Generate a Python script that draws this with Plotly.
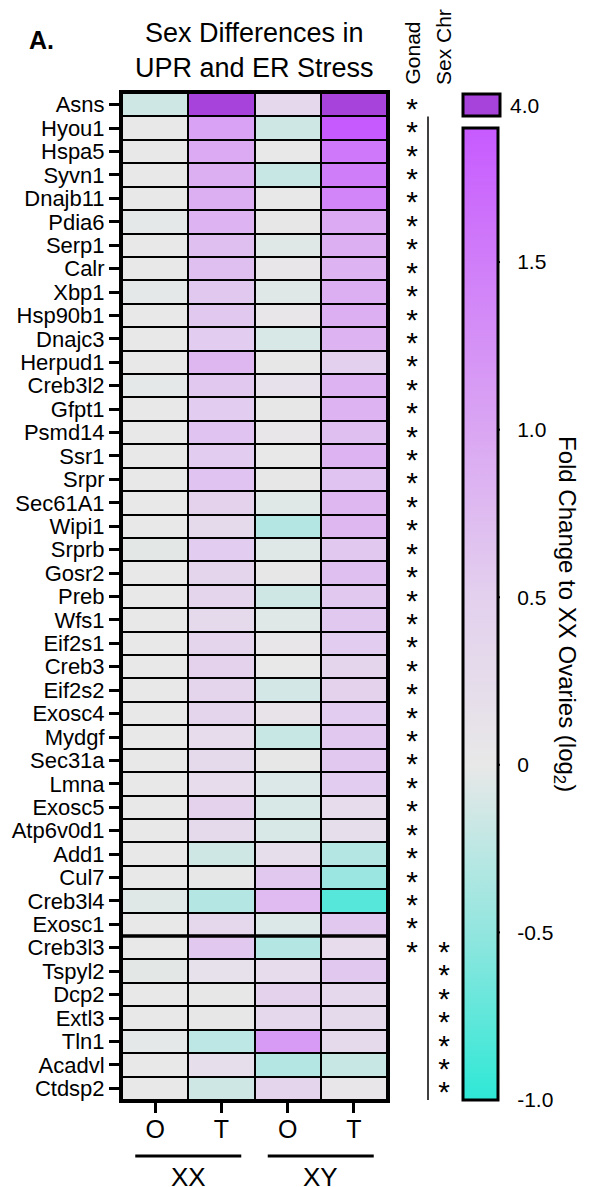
import plotly.graph_objects as go

# ---------------- data ----------------
genes = ["Asns", "Hyou1", "Hspa5", "Syvn1", "Dnajb11", "Pdia6", "Serp1", "Calr", "Xbp1",
         "Hsp90b1", "Dnajc3", "Herpud1", "Creb3l2", "Gfpt1", "Psmd14", "Ssr1", "Srpr",
         "Sec61A1", "Wipi1", "Srprb", "Gosr2", "Preb", "Wfs1", "Eif2s1", "Creb3", "Eif2s2",
         "Exosc4", "Mydgf", "Sec31a", "Lmna", "Exosc5", "Atp6v0d1", "Add1", "Cul7",
         "Creb3l4", "Exosc1", "Creb3l3", "Tspyl2", "Dcp2", "Extl3", "Tln1", "Acadvl", "Ctdsp2"]
columns = ["O", "T", "O", "T"]
groups = ["XX", "XY"]
sig_columns = ["Gonad", "Sex Chr"]

xx_o = [-0.15, 0.0, 0.0, 0.0, 0.0, -0.02, 0.0, 0.0, -0.02, 0.0, 0.0, 0.0, -0.02, 0.0, 0.0,
        0.0, 0.0, 0.0, 0.0, -0.03, 0.0, 0.0, 0.0, 0.0, 0.0, 0.0, 0.0, 0.0, 0.0, 0.0, 0.0,
        0.0, 0.0, 0.0, -0.05, 0.0, 0.0, -0.03, 0.0, 0.0, -0.02, 0.0, 0.0]
xx_t = [3.5, 1.05, 0.95, 0.9, 0.9, 0.85, 0.7, 0.7, 0.6, 0.6, 0.55, 0.8, 0.6, 0.55, 0.65,
        0.55, 0.65, 0.45, 0.3, 0.55, 0.4, 0.4, 0.3, 0.4, 0.45, 0.4, 0.4, 0.25, 0.3, 0.25,
        0.45, 0.3, -0.15, 0.02, -0.3, 0.35, 0.6, 0.15, 0.02, 0.02, -0.25, 0.2, -0.15]
xy_o = [0.35, -0.15, 0.0, -0.2, 0.0, 0.02, -0.05, 0.05, -0.05, 0.05, -0.1, 0.03, 0.15, 0.02,
        0.05, 0.0, 0.02, -0.05, -0.3, -0.05, 0.02, -0.15, -0.05, 0.05, 0.0, -0.12, 0.1, -0.2,
        0.02, -0.07, -0.1, -0.1, 0.2, 0.6, 0.75, -0.07, -0.3, 0.25, 0.45, 0.35, 1.15, -0.3, 0.4]
xy_t = [4.0, 1.9, 1.55, 1.5, 1.4, 0.95, 0.9, 0.85, 0.9, 0.9, 0.85, 0.5, 0.85, 0.85, 0.7,
        0.85, 0.65, 0.8, 0.8, 0.6, 0.7, 0.6, 0.6, 0.55, 0.4, 0.45, 0.55, 0.6, 0.6, 0.55,
        0.25, 0.2, -0.3, -0.45, -0.8, 0.6, 0.25, 0.6, 0.35, 0.3, 0.3, -0.2, 0.05]

gonad_sig = genes[0:37]          # Asns ... Creb3l3
sexchr_sig = genes[36:]          # Creb3l3 ... Ctdsp2
scale_min, scale_max = -1.0, 1.9
over_value_label = "4.0"
cbar_ticks = [-1.0, -0.5, 0.0, 0.5, 1.0, 1.5]
cbar_ticktext = ["-1.0", "-0.5", "0", "0.5", "1.0", "1.5"]

# ---------------- layout geometry (pixels) ----------------
FW, FH = 589, 1187
L, R, T, B = 122, 387, 93, 1100          # heatmap plot area
SIG_L, SIG_R = 396, 460                  # significance columns
CB_LEFT, CB_RIGHT, CB_TOP = 463, 500, 128
PAPER_W = FW - L
PAPER_H = B - T
FONT = "Liberation Sans, Arial, Helvetica, sans-serif"


def px_x(px):
    return (px - L) / PAPER_W


def px_y(px):
    return (B - px) / PAPER_H


def cb_y(v):
    return B - (v - scale_min) / (scale_max - scale_min) * (B - CB_TOP)


n = len(genes)
rows = list(range(n))
cols = list(range(len(columns)))
z = [[xx_o[i], xx_t[i], xy_o[i], xy_t[i]] for i in rows]
z_over = [[v if v > scale_max else None for v in r] for r in z]

span = scale_max - scale_min
colorscale = [
    [0.0, "#2ee8d6"],
    [0.5 / span, "#92e6df"],
    [1.0 / span, "#e8e8e8"],
    [1.5 / span, "#e3d0ee"],
    [2.0 / span, "#daa6f3"],
    [2.5 / span, "#d07df9"],
    [1.0, "#c75aff"],
]
over_color = "#a743da"

fig = go.Figure()
fig.add_trace(go.Heatmap(
    z=z, x=cols, y=rows, zmin=scale_min, zmax=scale_max, colorscale=colorscale,
    xgap=2, ygap=2, hoverinfo="skip",
    colorbar=dict(
        x=px_x(CB_LEFT), xanchor="left", xpad=0,
        y=0, yanchor="bottom", ypad=0,
        lenmode="pixels", len=B - CB_TOP, thickness=CB_RIGHT - CB_LEFT - 2,
        outlinewidth=3, outlinecolor="black",
        tickmode="array", tickvals=cbar_ticks, ticktext=cbar_ticktext,
        ticks="outside", ticklen=14, tickwidth=1, tickcolor="rgba(0,0,0,0)",
        tickfont=dict(family=FONT, size=21, color="black"),
    ),
))
fig.add_trace(go.Heatmap(
    z=z_over, x=cols, y=rows, zmin=0, zmax=1,
    colorscale=[[0, over_color], [1, over_color]], showscale=False,
    xgap=2, ygap=2, hoverinfo="skip",
))

# significance asterisks on their own category axis (x2), sharing the gene axis
star_dy = 0.28
fig.add_trace(go.Scatter(
    x=[sig_columns[0]] * len(gonad_sig), y=[genes.index(g) + star_dy for g in gonad_sig],
    xaxis="x2", yaxis="y", mode="text", text=["*"] * len(gonad_sig),
    textposition="middle center", cliponaxis=False,
    textfont=dict(family=FONT, size=30, color="black"), hoverinfo="skip", showlegend=False,
))
fig.add_trace(go.Scatter(
    x=[sig_columns[1]] * len(sexchr_sig), y=[genes.index(g) + star_dy for g in sexchr_sig],
    xaxis="x2", yaxis="y", mode="text", text=["*"] * len(sexchr_sig),
    textposition="middle center", cliponaxis=False,
    textfont=dict(family=FONT, size=30, color="black"), hoverinfo="skip", showlegend=False,
))

shapes = []
# black backdrop that shows through the cell gaps as grid lines
shapes.append(dict(type="rect", xref="x domain", yref="y domain", x0=0, x1=1, y0=0, y1=1,
                   fillcolor="black", line=dict(width=0), layer="below"))
# divider between gonad-only and sex-chromosome genes
split = genes.index(sexchr_sig[0]) - 0.5
shapes.append(dict(type="line", xref="paper", yref="y", x0=px_x(L), x1=px_x(R + 3),
                   y0=split, y1=split, line=dict(color="black", width=3.5)))
# bracket line between the significance columns
shapes.append(dict(type="line", xref="x2", yref="y", x0=0.5, x1=0.5,
                   y0=0.5, y1=n - 0.5, line=dict(color="black", width=1.5)))
# group underlines
shapes.append(dict(type="line", xref="x", yref="paper", x0=-0.3, x1=1.3,
                   y0=px_y(1156), y1=px_y(1156), line=dict(color="black", width=3)))
shapes.append(dict(type="line", xref="x", yref="paper", x0=1.7, x1=3.3,
                   y0=px_y(1156), y1=px_y(1156), line=dict(color="black", width=3)))
# over-range legend box
shapes.append(dict(type="rect", xref="paper", yref="paper", x0=px_x(CB_LEFT), x1=px_x(CB_RIGHT),
                   y0=px_y(116), y1=px_y(94), fillcolor=over_color,
                   line=dict(color="black", width=3)))
# inward colorbar tick marks on both edges
for v in cbar_ticks[1:]:
    yy = px_y(cb_y(v))
    shapes.append(dict(type="line", xref="paper", yref="paper", x0=px_x(CB_LEFT),
                       x1=px_x(CB_LEFT + 7), y0=yy, y1=yy, line=dict(color="black", width=2)))
    shapes.append(dict(type="line", xref="paper", yref="paper", x0=px_x(CB_RIGHT - 7),
                       x1=px_x(CB_RIGHT), y0=yy, y1=yy, line=dict(color="black", width=2)))

annotations = [
    dict(text="<b>A.</b>", x=px_x(27), y=px_y(40), xref="paper", yref="paper",
         xanchor="left", yanchor="middle", showarrow=False,
         font=dict(family=FONT, size=25, color="black")),
    dict(text="Sex Differences in<br>UPR and ER Stress", x=px_x((L + R) / 2), y=px_y(51),
         xref="paper", yref="paper", xanchor="center", yanchor="middle", showarrow=False,
         font=dict(family=FONT, size=27, color="black")),
    dict(text=sig_columns[0], x=sig_columns[0], y=px_y(87), xref="x2", yref="paper",
         xanchor="center", yanchor="bottom", textangle=-90, showarrow=False,
         font=dict(family=FONT, size=21, color="black")),
    dict(text=sig_columns[1], x=sig_columns[1], y=px_y(87), xref="x2", yref="paper",
         xanchor="center", yanchor="bottom", textangle=-90, showarrow=False,
         font=dict(family=FONT, size=21, color="black")),
    dict(text=over_value_label, x=px_x(508), y=px_y(105), xref="paper", yref="paper",
         xanchor="left", yanchor="middle", showarrow=False,
         font=dict(family=FONT, size=21, color="black")),
    dict(text="Fold Change to XX Ovaries (log<sub>2</sub>)", x=px_x(566),
         y=px_y((CB_TOP + B) / 2), xref="paper", yref="paper", xanchor="center",
         yanchor="middle", textangle=90, showarrow=False,
         font=dict(family=FONT, size=24, color="black")),
    dict(text=groups[0], x=0.5, y=px_y(1160), xref="x", yref="paper",
         xanchor="center", yanchor="top", showarrow=False,
         font=dict(family=FONT, size=26, color="black")),
    dict(text=groups[1], x=2.5, y=px_y(1160), xref="x", yref="paper",
         xanchor="center", yanchor="top", showarrow=False,
         font=dict(family=FONT, size=26, color="black")),
]

fig.update_layout(
    width=FW, height=FH,
    margin=dict(l=L, r=FW - L - PAPER_W, t=T, b=FH - B, pad=0, autoexpand=False),
    paper_bgcolor="white", plot_bgcolor="white",
    font=dict(family=FONT, color="black"),
    shapes=shapes, annotations=annotations, showlegend=False,
    xaxis=dict(
        domain=[0, px_x(R)], anchor="y",
        range=[-0.5, len(columns) - 0.5], tickmode="array", tickvals=cols, ticktext=columns,
        ticks="outside", ticklen=10, tickwidth=3, tickcolor="black", ticklabelstandoff=-5,
        tickfont=dict(family=FONT, size=25, color="black"),
        showline=True, linewidth=3, linecolor="black", mirror=True,
        showgrid=False, zeroline=False, fixedrange=True, automargin=False,
    ),
    xaxis2=dict(
        domain=[px_x(SIG_L), px_x(SIG_R)], anchor="y", type="category",
        categoryorder="array", categoryarray=sig_columns, range=[-0.5, 1.5],
        showticklabels=False, ticks="", showline=False, showgrid=False, zeroline=False,
        fixedrange=True, automargin=False,
    ),
    yaxis=dict(
        domain=[0, 1], anchor="x",
        range=[n - 0.5, -0.5], tickmode="array", tickvals=rows, ticktext=genes,
        ticks="outside", ticklen=10, tickwidth=3, tickcolor="black",
        tickfont=dict(family=FONT, size=22, color="black"),
        showline=True, linewidth=3, linecolor="black", mirror=True,
        showgrid=False, zeroline=False, fixedrange=True, automargin=False,
    ),
)

fig.write_html("out.html", config={"displayModeBar": False},
               post_script="document.body.style.margin='0';")
